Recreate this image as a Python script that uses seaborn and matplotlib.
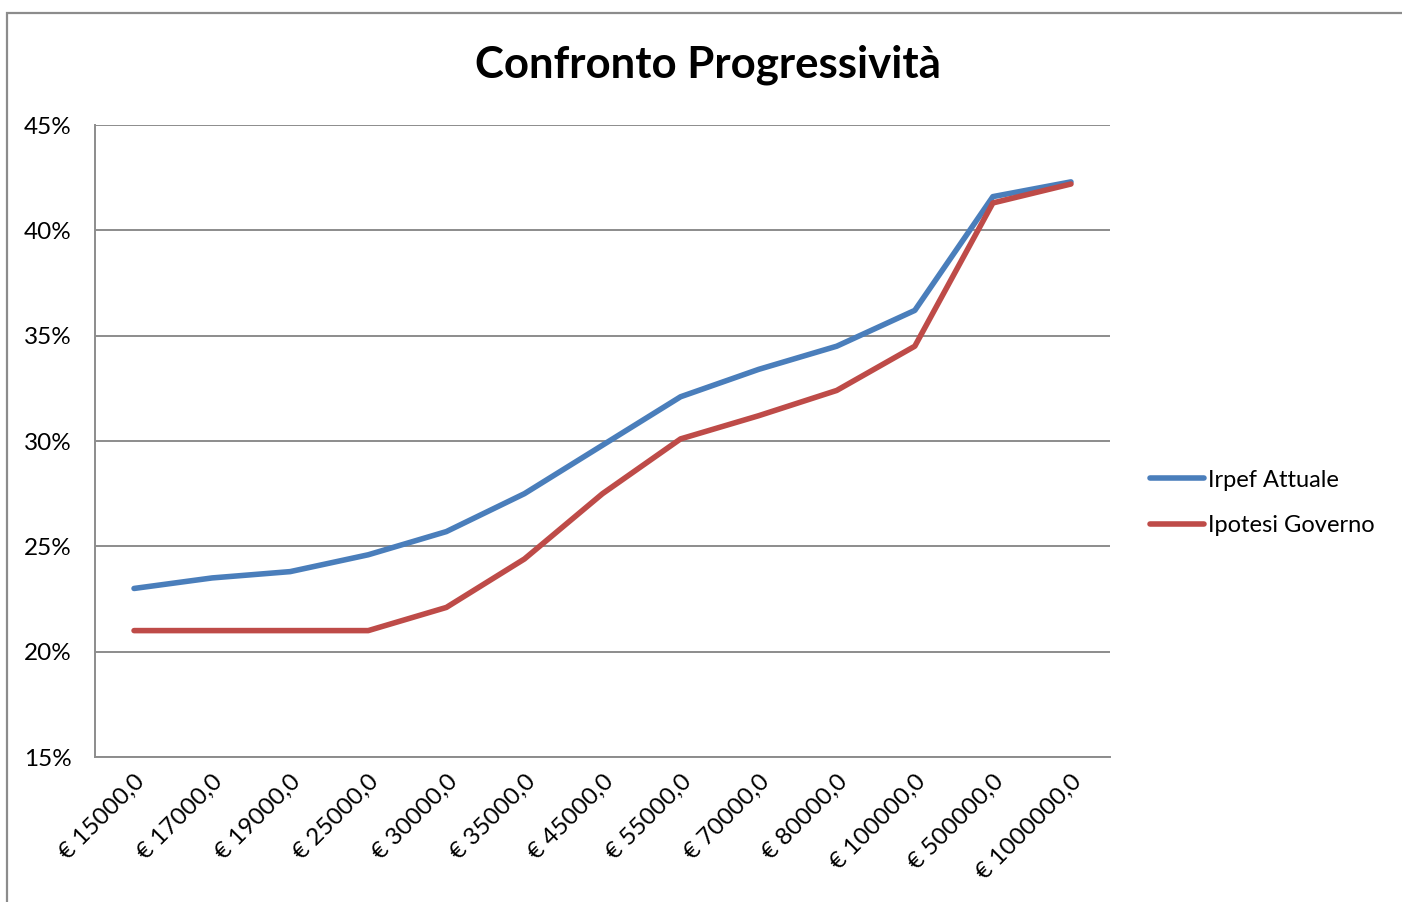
import pandas as pd
import matplotlib.pyplot as plt
import matplotlib.ticker as ticker
from matplotlib.patches import Rectangle
import seaborn as sns

# Reddito lordo (categorie asse x)
redditi = ["€ 15000,0", "€ 17000,0", "€ 19000,0", "€ 25000,0", "€ 30000,0",
           "€ 35000,0", "€ 45000,0", "€ 55000,0", "€ 70000,0", "€ 80000,0",
           "€ 100000,0", "€ 500000,0", "€ 1000000,0"]

# Aliquota media (%)
irpef_attuale = [23.0, 23.5, 23.8, 24.6, 25.7, 27.5, 29.8, 32.1, 33.4, 34.5, 36.2, 41.6, 42.3]
ipotesi_governo = [21.0, 21.0, 21.0, 21.0, 22.1, 24.4, 27.5, 30.1, 31.2, 32.4, 34.5, 41.3, 42.2]

serie = ["Irpef Attuale", "Ipotesi Governo"]
colori = ["#4A7EBB", "#BE4B48"]

sns.set_theme(style="white")
plt.rcParams['font.family'] = ['Lato', 'DejaVu Sans']
plt.rcParams['text.color'] = 'black'
plt.rcParams['xtick.color'] = 'black'
plt.rcParams['ytick.color'] = 'black'

fig = plt.figure(figsize=(14.02, 9.02), dpi=100)
ax = fig.add_axes([95 / 1402, 1 - 757 / 902, (1110 - 95) / 1402, (757 - 125) / 902])

#Cornice del grafico
fig.patches.append(Rectangle((7 / 1402, -0.05), 1.1, 1 - 13 / 902 + 0.05,
                             transform=fig.transFigure, fill=False,
                             edgecolor="#8c8c8c", linewidth=1.6))

x_pos = list(range(len(redditi)))
for nome, valori, col in zip(serie, [irpef_attuale, ipotesi_governo], colori):
    sns.lineplot(x=x_pos, y=valori, ax=ax, color=col, linewidth=4,
                 label=nome, solid_capstyle="round")

ax.set_xlim(-0.5, len(redditi) - 0.5)
ax.set_ylim(15, 45)
ax.yaxis.set_major_locator(ticker.MultipleLocator(5))
ax.yaxis.set_major_formatter(ticker.FuncFormatter(lambda v, p: f"{v:.0f}%"))
ax.set_xticks(x_pos)
ax.set_xticklabels(redditi, rotation=45, ha="right", rotation_mode="anchor")
ax.tick_params(axis="x", length=0, pad=10, labelsize=17.5)
ax.tick_params(axis="y", length=0, pad=17, labelsize=17.5)
ax.set_xlabel("")
ax.set_ylabel("")

ax.grid(axis="y", color="#8c8c8c", linewidth=1.4)
ax.set_axisbelow(True)
for s in ["top", "right"]:
    ax.spines[s].set_visible(False)
for s in ["left", "bottom"]:
    ax.spines[s].set_color("#8c8c8c")
    ax.spines[s].set_linewidth(1.4)

fig.text(708 / 1402, 1 - 65 / 902, "Confronto Progressività", ha="center", va="center",
         fontsize=31.5, fontweight="bold")

ax.legend(loc="center left", bbox_to_anchor=(1150 / 1402, 1 - 503 / 902),
          bbox_transform=fig.transFigure, frameon=False, fontsize=17,
          borderpad=0, borderaxespad=0, handlelength=2.3, handletextpad=0.15,
          labelspacing=1.05)

plt.savefig("out.png", dpi=100)
plt.close()
